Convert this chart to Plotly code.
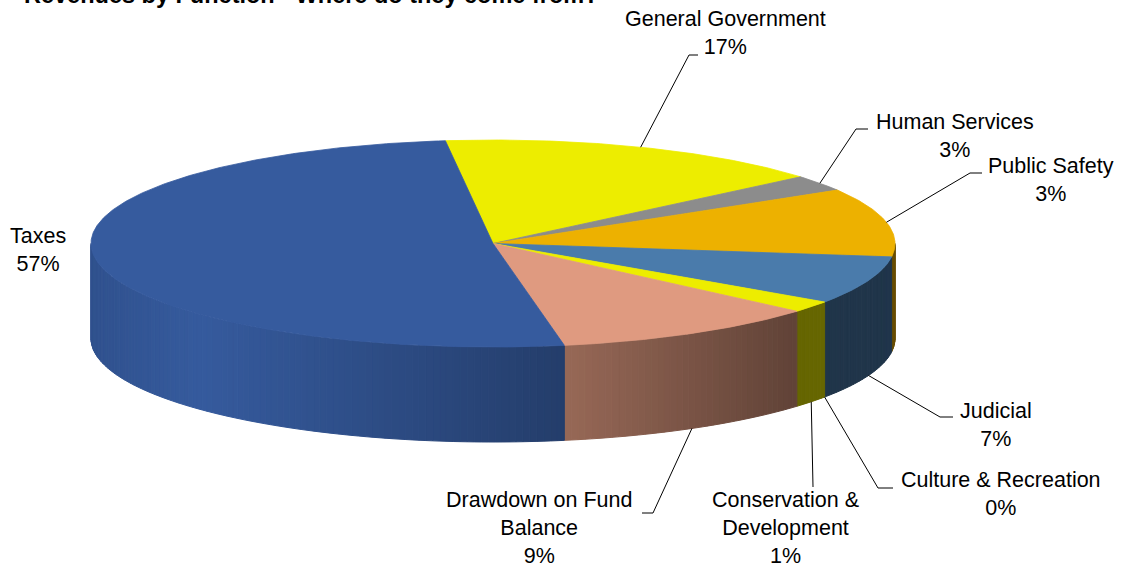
import numpy as np
import plotly.graph_objects as go

# ---------------- data ----------------
categories = ["General Government", "Human Services", "Public Safety", "Judicial",
              "Culture & Recreation", "Conservation & Development",
              "Drawdown on Fund Balance", "Taxes"]
# slice shares (percent of the full circle)
shares = [15.75, 2.5, 10.7, 7.5, 0.0, 1.8, 10.8, 50.95]
# percentages printed in the data labels
pct_labels = ["17%", "3%", "3%", "7%", "0%", "1%", "9%", "57%"]
label_names = ["General Government", "Human Services", "Public Safety", "Judicial",
               "Culture & Recreation", "Conservation &<br>Development",
               "Drawdown on Fund<br>Balance", "Taxes"]
title_text = "Revenues by Function - Where do they come from?"

# ---------------- style / layout ----------------
colors = ["#EDED00", "#8C8C8C", "#EDB100", "#4A7BAB", "#9BBB59", "#EDED00", "#DF9A80", "#365B9E"]
CX, CY, RX, RY, DEPTH = 493.0, 243.5, 402.0, 103.5, 95.0
START = -6.8  # degrees, clockwise from 12 o'clock
W, H = 1138, 572
FONT = "Arial, Liberation Sans, sans-serif"
label_pos = [(725, 33), (955, 136), (1051, 180), (996, 425), (1001, 494), (785, 528), (539, 528), (38, 250)]
leader_elbow = [[(689, 55), (698, 55)], [(856, 129), (868, 129)], [(970, 173), (982, 173)],
                [(940, 417), (953, 417)], [(878, 488), (893, 488)], [(813, 487)],
                [(653, 513), (642, 513)], None]


def pt(theta_deg, dy=0.0):
    t = np.radians(theta_deg)
    return CX + RX * np.sin(t), CY - RY * np.cos(t) + dy


def hex_rgb(h):
    h = h.lstrip("#")
    return [int(h[i:i + 2], 16) for i in (0, 2, 4)]


def shade(h, f):
    r, g, b = hex_rgb(h)
    return "rgb(%d,%d,%d)" % (min(255, r * f), min(255, g * f), min(255, b * f))


def side_factor(x):
    return float(np.interp(x, [91, 200, 565, 800, 900], [0.90, 1.0, 0.68, 0.43, 0.44]))


total = sum(shares)
bounds = [START]
for s in shares:
    bounds.append(bounds[-1] + 360.0 * s / total)

fig = go.Figure()

# ---- side walls (front half only: 90..270 deg) ----
for i, s in enumerate(shares):
    if s <= 0:
        continue
    a0, a1 = max(bounds[i], 90.0), min(bounds[i + 1], 270.0)
    if a1 <= a0:
        continue
    n = max(1, int(np.ceil((a1 - a0) / 1.0)))
    edges = np.linspace(a0, a1, n + 1)
    for k in range(n):
        th = np.linspace(edges[k], edges[k + 1], 4)
        xs_top, ys_top = pt(th)
        xs_bot, ys_bot = pt(th[::-1], DEPTH)
        xs = np.concatenate([xs_top, xs_bot, xs_top[:1]])
        ys = np.concatenate([ys_top, ys_bot, ys_top[:1]])
        xm = pt((edges[k] + edges[k + 1]) / 2)[0]
        c = shade(colors[i], side_factor(xm))
        fig.add_trace(go.Scatter(x=xs, y=ys, mode="lines", fill="toself", fillcolor=c,
                                 line=dict(color=c, width=1), hoverinfo="skip"))

# ---- top faces ----
for i, s in enumerate(shares):
    if s <= 0:
        continue
    th = np.linspace(bounds[i], bounds[i + 1], max(3, int(abs(bounds[i + 1] - bounds[i]) * 2)))
    xa, ya = pt(th)
    xs = np.concatenate([[CX], xa, [CX]])
    ys = np.concatenate([[CY], ya, [CY]])
    fig.add_trace(go.Scatter(x=xs, y=ys, mode="lines", fill="toself", fillcolor=colors[i],
                             line=dict(color=colors[i], width=0.8), hoverinfo="skip",
                             name=categories[i]))

# ---- leader lines ----
for i, s in enumerate(shares):
    if leader_elbow[i] is None:
        continue
    mid = (bounds[i] + bounds[i + 1]) / 2
    front = 90 < (mid % 360) < 270
    x0, y0 = pt(mid, DEPTH if front else 0.0)
    xs = [x0] + [p[0] for p in leader_elbow[i]]
    ys = [y0] + [p[1] for p in leader_elbow[i]]
    fig.add_trace(go.Scatter(x=xs, y=ys, mode="lines", line=dict(color="black", width=1),
                             hoverinfo="skip"))

# ---- labels ----
for i in range(len(categories)):
    fig.add_annotation(x=label_pos[i][0], y=label_pos[i][1],
                       text=label_names[i] + "<br>" + pct_labels[i],
                       showarrow=False, xanchor="center", yanchor="middle", align="center",
                       font=dict(family=FONT, size=21.5, color="black"))

fig.add_annotation(x=22, y=10, text="<b>" + title_text + "</b>", showarrow=False,
                   xanchor="left", yanchor="bottom", font=dict(family=FONT, size=23.5, color="black"))

fig.update_layout(width=W, height=H, margin=dict(l=0, r=0, t=0, b=0),
                  paper_bgcolor="white", plot_bgcolor="white", showlegend=False,
                  xaxis=dict(range=[0, W], visible=False, fixedrange=True),
                  yaxis=dict(range=[H, 0], visible=False, fixedrange=True))

fig.write_html("out.html")
